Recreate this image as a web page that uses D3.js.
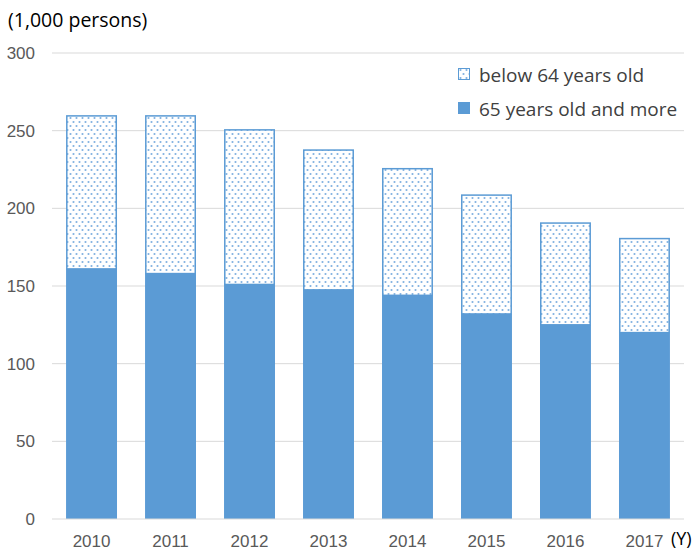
<!DOCTYPE html>
<html lang="en">
<head>
<meta charset="UTF-8">
<title>Persons by age group</title>
<style>
  body { margin: 0; background: #fff; font-family: 'Open Sans', sans-serif; }
  .tick text { fill: #595959; font-size: 17px; }
</style>
<script src="https://d3js.org/d3.v7.min.js"></script>
</head>
<body>
<svg width="696" height="552"></svg>
<script>
  const years = ['2010', '2011', '2012', '2013', '2014', '2015', '2016', '2017'];
  const olderValues = [161, 158, 151, 147.5, 144, 132, 125, 120];
  const totalValues = [260, 260, 251, 238, 226, 209, 191, 181];
  const yTicks = [0, 50, 100, 150, 200, 250, 300];
  const seriesNames = ['below 64 years old', '65 years old and more'];

  const blue = '#5b9bd5';
  const svg = d3.select('svg');

  const x = d3.scaleBand().domain(years).range([52, 684]).paddingInner(0.355).paddingOuter(0.178);
  const y = d3.scaleLinear().domain([0, 300]).range([519, 53]);

  // dotted pattern for the younger group
  const defs = svg.append('defs');
  const pat = defs.append('pattern')
    .attr('id', 'dots')
    .attr('patternUnits', 'userSpaceOnUse')
    .attr('width', 6).attr('height', 8);
  pat.append('rect').attr('width', 6).attr('height', 8).attr('fill', '#fff');
  pat.append('circle').attr('cx', 1.5).attr('cy', 2).attr('r', 1.05).attr('fill', '#7fb0e0');
  pat.append('circle').attr('cx', 4.5).attr('cy', 6).attr('r', 1.05).attr('fill', '#7fb0e0');

  // gridlines
  svg.append('g')
    .selectAll('line')
    .data(yTicks.filter(d => d > 0))
    .enter().append('line')
    .attr('x1', 52).attr('x2', 684)
    .attr('y1', d => y(d)).attr('y2', d => y(d))
    .attr('stroke', '#d9d9d9').attr('stroke-width', 1);

  const yAxis = svg.append('g')
    .attr('transform', 'translate(52,0)')
    .call(d3.axisLeft(y).tickValues(yTicks).tickSize(0).tickPadding(17));
  yAxis.select('.domain').remove();

  const rows = years.map((yr, i) => ({ year: yr, older: olderValues[i], total: totalValues[i] }));

  // younger (top) part
  svg.append('g').selectAll('rect')
    .data(rows)
    .enter().append('rect')
    .attr('x', d => x(d.year) + 0.75)
    .attr('width', x.bandwidth() - 1.5)
    .attr('y', d => y(d.total) + 0.75)
    .attr('height', d => y(d.older) - y(d.total) - 0.75)
    .attr('fill', 'url(#dots)')
    .attr('stroke', blue).attr('stroke-width', 1.5);

  // older (bottom) part
  svg.append('g').selectAll('rect')
    .data(rows)
    .enter().append('rect')
    .attr('x', d => x(d.year))
    .attr('width', x.bandwidth())
    .attr('y', d => y(d.older))
    .attr('height', d => y(0) - y(d.older))
    .attr('fill', blue);

  // baseline
  svg.append('line')
    .attr('x1', 52).attr('x2', 684)
    .attr('y1', y(0)).attr('y2', y(0))
    .attr('stroke', '#d9d9d9');

  const xAxis = svg.append('g')
    .attr('transform', `translate(0,${y(0)})`)
    .call(d3.axisBottom(x).tickSize(0).tickPadding(16));
  xAxis.select('.domain').remove();

  svg.append('text').attr('x', 8).attr('y', 27)
    .attr('font-size', 19.5).attr('fill', '#000').text('(1,000 persons)');
  svg.append('text').attr('x', 671).attr('y', 545)
    .attr('font-size', 18).attr('fill', '#000').text('(Y)');

  // legend
  const legend = svg.append('g');
  legend.append('rect').attr('x', 458.5).attr('y', 68.5).attr('width', 11).attr('height', 11)
    .attr('fill', 'url(#dots)').attr('stroke', blue).attr('stroke-width', 1);
  legend.append('rect').attr('x', 458).attr('y', 102).attr('width', 12).attr('height', 12)
    .attr('fill', blue);
  legend.selectAll('text')
    .data(seriesNames)
    .enter().append('text')
    .attr('x', 479)
    .attr('y', (d, i) => 82 + i * 34)
    .attr('font-size', 19).attr('fill', '#404040')
    .text(d => d);
</script>
</body>
</html>
